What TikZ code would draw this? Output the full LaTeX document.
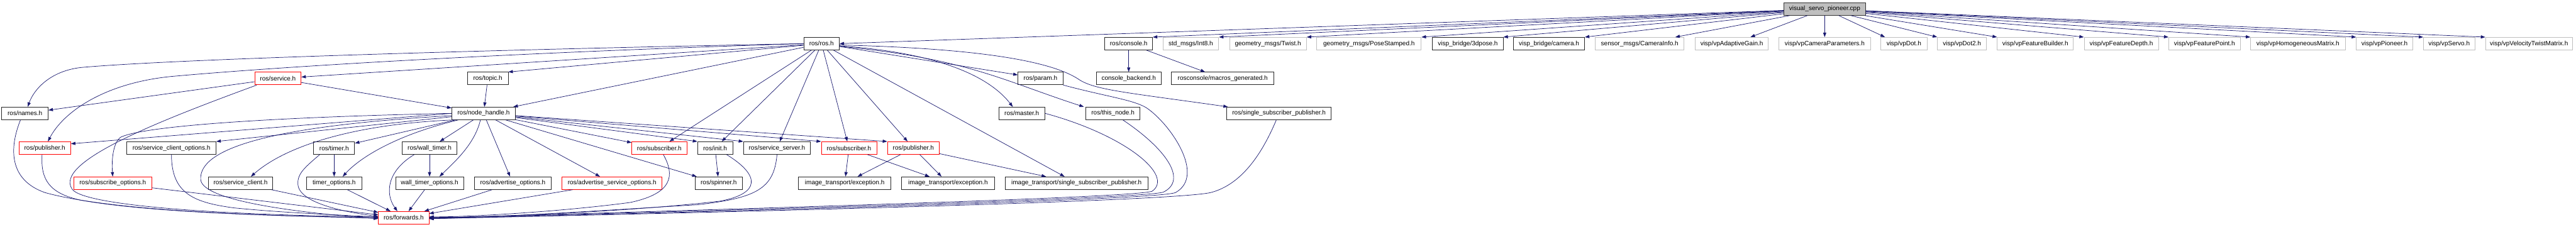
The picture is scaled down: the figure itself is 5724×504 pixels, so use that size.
\documentclass[tikz,border=0pt]{standalone}
\usepackage{fontspec}
\setmainfont{Liberation Sans}
\usetikzlibrary{arrows.meta,calc}
\definecolor{edgec}{HTML}{191970}
\definecolor{grayb}{HTML}{BFBFBF}
\definecolor{redb}{HTML}{FF0000}
\tikzset{
  base/.style={rectangle, minimum height=28, inner sep=0pt, font=\fontsize{14}{16}\selectfont, line width=1.1pt, fill=white},
  nb/.style={base, draw=black!85},
  nr/.style={base, draw=redb},
  ng/.style={base, draw=grayb},
  nmain/.style={base, draw=black!80, fill=grayb},
  conn/.style={draw=edgec, line width=1pt, line join=round, -{Triangle[length=10pt,width=7pt]}},
}
\begin{document}
\begin{tikzpicture}[x=1pt,y=-1pt]
\useasboundingbox[fill=white] (0,0) rectangle (5724,504);
% row 0
\node[nmain, minimum width=181] (V) at (4054.5,20) {visual\_servo\_pioneer.cpp};
% row 1
\node[nb, minimum width=79] (ros) at (1825.5,97) {ros/ros.h};
\node[nb, minimum width=106] (console) at (2508,97) {ros/console.h};
\node[ng, minimum width=124] (int8) at (2646,97) {std\_msgs/Int8.h};
\node[ng, minimum width=171] (twist) at (2817.5,97) {geometry\_msgs/Twist.h};
\node[ng, minimum width=232] (pose) at (3042,97) {geometry\_msgs/PoseStamped.h};
\node[nb, minimum width=157] (pose3d) at (3261.5,97) {visp\_bridge/3dpose.h};
\node[nb, minimum width=158] (camera) at (3442,97) {visp\_bridge/camera.h};
\node[ng, minimum width=197] (caminfo) at (3643.5,97) {sensor\_msgs/CameraInfo.h};
\node[ng, minimum width=162] (adapt) at (3848,97) {visp/vpAdaptiveGain.h};
\node[ng, minimum width=203] (campar) at (4054.5,97) {visp/vpCameraParameters.h};
\node[ng, minimum width=103] (dot) at (4230.5,97) {visp/vpDot.h};
\node[ng, minimum width=109] (dot2) at (4359.5,97) {visp/vpDot2.h};
\node[ng, minimum width=169] (fbuild) at (4522.5,97) {visp/vpFeatureBuilder.h};
\node[ng, minimum width=165] (fdepth) at (4713.5,97) {visp/vpFeatureDepth.h};
\node[ng, minimum width=159] (fpoint) at (4898.5,97) {visp/vpFeaturePoint.h};
\node[ng, minimum width=210] (homog) at (5106,97) {visp/vpHomogeneousMatrix.h};
\node[ng, minimum width=125] (pioneer) at (5298.5,97) {visp/vpPioneer.h};
\node[ng, minimum width=114] (servo) at (5442,97) {visp/vpServo.h};
\node[ng, minimum width=193] (vtwist) at (5619.5,97) {visp/vpVelocityTwistMatrix.h};
% row 2
\node[nr, minimum width=103] (service) at (617.5,174.5) {ros/service.h};
\node[nb, minimum width=90] (topic) at (1084,174.5) {ros/topic.h};
\node[nb, minimum width=100] (param) at (2312,174.5) {ros/param.h};
\node[nb, minimum width=144] (cback) at (2508,174.5) {console\_backend.h};
\node[nb, minimum width=228] (macros) at (2717,174.5) {rosconsole/macros\_generated.h};
% row 3
\node[nb, minimum width=103] (names) at (55.5,252) {ros/names.h};
\node[nb, minimum width=141] (nh) at (1074.5,252) {ros/node\_handle.h};
\node[nb, minimum width=103] (master) at (2270.5,252) {ros/master.h};
\node[nb, minimum width=120] (thisnode) at (2473,252) {ros/this\_node.h};
\node[nb, minimum width=232] (rssp) at (2842,252) {ros/single\_subscriber\_publisher.h};
% row 4
\node[nr, minimum width=115] (pubA) at (99.5,329) {ros/publisher.h};
\node[nb, minimum width=198] (sco) at (381,329) {ros/service\_client\_options.h};
\node[nb, minimum width=91] (timer) at (742.5,329) {ros/timer.h};
\node[nb, minimum width=121] (wt) at (954.5,329) {ros/wall\_timer.h};
\node[nr, minimum width=122] (subA) at (1465,329) {ros/subscriber.h};
\node[nb, minimum width=78] (init) at (1589,329) {ros/init.h};
\node[nb, minimum width=149] (ss) at (1726.5,329) {ros/service\_server.h};
\node[nr, minimum width=123] (subB) at (1886.5,329) {ros/subscriber.h};
\node[nr, minimum width=115] (pubB) at (2029.5,329) {ros/publisher.h};
% row 5
\node[nr, minimum width=173] (subopt) at (250.5,407) {ros/subscribe\_options.h};
\node[nb, minimum width=143] (sc) at (534.5,407) {ros/service\_client.h};
\node[nb, minimum width=123] (timeropt) at (742.5,407) {timer\_options.h};
\node[nb, minimum width=151] (wto) at (954.5,407) {wall\_timer\_options.h};
\node[nb, minimum width=171] (ao) at (1139.5,407) {ros/advertise\_options.h};
\node[nr, minimum width=222] (aso) at (1360,407) {ros/advertise\_service\_options.h};
\node[nb, minimum width=104] (spinner) at (1597,407) {ros/spinner.h};
\node[nb, minimum width=206] (excA) at (1877,407) {image\_transport/exception.h};
\node[nb, minimum width=207] (excB) at (2106.5,407) {image\_transport/exception.h};
\node[nb, minimum width=318] (issp) at (2392,407) {image\_transport/single\_subscriber\_publisher.h};
% row 6
\node[nr, minimum width=112] (fw) at (897,484) {ros/forwards.h};

% ---- edges from visual_servo_pioneer.cpp
\draw[conn] (V) -- (ros.east);
\foreach \t in {console,int8,twist,pose,pose3d,camera} \draw[conn] (V) -- (\t.north east);
\draw[conn] (V) -- ($(caminfo.north east)+(-20,0)$);
\draw[conn] (V) -- ($(adapt.north east)+(-40,0)$);
\draw[conn] (V) -- (campar);
\draw[conn] (V) -- ($(dot.north west)+(10,0)$);
\foreach \t in {dot2,fbuild,fdepth,fpoint,homog,pioneer,servo,vtwist} \draw[conn] (V) -- (\t.north west);

% ---- console
\draw[conn] (console) -- (cback);
\draw[conn] (console) -- (macros);

% ---- ros/ros.h
\draw[conn] (ros.west) .. controls (1200,108) and (400,130) .. (180,150) .. controls (110,158) and (75,200) .. ($(names.north)+(6,0)$);
\draw[conn] (ros.west) .. controls (1100,118) and (600,150) .. (380,170) .. controls (230,185) and (140,250) .. ($(pubA.north)+(7,0)$);
\draw[conn] (ros) -- (service);
\draw[conn] (ros) -- (topic.north east);
\draw[conn] (ros) -- ($(nh.north east)+(-5,0)$);
\foreach \t in {subA,init,ss,subB,pubB,issp} \draw[conn] (ros) -- (\t);
\draw[conn] (ros) -- (param);
\draw[conn] ($(ros.east)+(0,5)$) .. controls (2060,115) and (2190,160) .. ($(master.north)+(-20,0)$);
\draw[conn] ($(ros.east)+(0,6)$) .. controls (2150,130) and (2230,180) .. ($(thisnode.north west)+(-4,0)$);
\draw[conn] ($(ros.east)+(0,3)$) .. controls (2200,108) and (2340,140) .. (2395,175) .. controls (2430,200) and (2500,205) .. ($(rssp.north west)+(3,0)$);

% ---- ros/service.h
\draw[conn] (service) -- (names);
\draw[conn] (service) -- (nh);
\draw[conn] ($(service.south west)+(5,0)$) .. controls (350,270) and (120,360) .. (160,420) .. controls (185,458) and (500,478) .. ($(fw.west)+(0,-2)$);

% ---- ros/topic.h
\draw[conn] (topic) -- (nh);

% ---- ros/names.h, publisher, options -> forwards
\draw[conn] ($(names.south)+(-10,0)$) .. controls (20,330) and (20,400) .. (100,428) .. controls (250,470) and (600,480) .. (fw.west);
\draw[conn] ($(pubA.south)+(-6,0)$) .. controls (90,400) and (110,430) .. (180,445) .. controls (350,475) and (650,480) .. ($(fw.west)+(0,1)$);
\draw[conn] (subopt) -- (fw);
\draw[conn] (sco.south) .. controls (381,430) and (430,450) .. (520,462) .. controls (650,475) and (780,478) .. ($(fw.west)+(0,-1)$);
\draw[conn] (sc) -- (fw);

% ---- ros/node_handle.h
\draw[conn] ($(nh.west)+(0,5)$) .. controls (600,280) and (440,330) .. (446,400) .. controls (452,445) and (650,472) .. ($(fw.west)+(0,2)$);
\draw[conn] (nh.west) .. controls (700,258) and (330,275) .. (268,305) .. controls (250,318) and (248,360) .. (subopt.north);
\draw[conn] (nh.west) -- ($(pubA.north east)+(0,5)$);
\draw[conn] (nh) -- (sco.north east);
\draw[conn] ($(nh.south west)+(5,0)$) .. controls (800,275) and (640,320) .. ($(sc.north)+(23,0)$);
\draw[conn] (nh) -- (timer);
\draw[conn] ($(nh.south west)+(15,0)$) .. controls (880,300) and (800,350) .. ($(timeropt.north)+(19,0)$);
\draw[conn] (nh) -- (wt);
\draw[conn] ($(nh.south)+(-7,0)$) .. controls (1055,320) and (1010,360) .. ($(wto.north)+(22,0)$);
\draw[conn] (nh) -- (ao);
\draw[conn] (nh) -- (aso);
\draw[conn] (nh) -- (spinner);
\draw[conn] (nh) -- (subA);
\draw[conn] (nh) -- (init.north west);
\draw[conn] (nh) -- (ss.north west);
\draw[conn] (nh) -- (subB.north west);
\draw[conn] (nh) -- (pubB.north west);

% ---- timers
\draw[conn] (timer) -- (timeropt);
\draw[conn] ($(timer.south west)+(14,0)$) .. controls (680,370) and (660,385) .. (662,410) .. controls (664,440) and (720,465) .. ($(fw.west)+(0,-3)$);
\draw[conn] (timeropt) -- (fw);
\draw[conn] (wt) -- (wto);
\draw[conn] ($(wt.south west)+(27,0)$) .. controls (860,380) and (855,430) .. ($(fw.north)+(-14,0)$);
\draw[conn] (wto) -- (fw);
\draw[conn] (ao) -- (fw);
\draw[conn] (aso) -- (fw);

% ---- subscriber / init / service_server
\draw[conn] ($(subA.south)+(9,0)$) .. controls (1500,390) and (1495,430) .. (1400,450) .. controls (1250,470) and (1050,482) .. ($(fw.east)+(0,-2)$);
\draw[conn] (init) -- (spinner);
\draw[conn] ($(init.south east)+(-14,0)$) .. controls (1690,390) and (1690,430) .. (1600,447) .. controls (1400,470) and (1100,483) .. ($(fw.east)+(0,-1)$);
\draw[conn] (ss.south) .. controls (1720,420) and (1680,440) .. (1550,455) .. controls (1300,470) and (1100,484) .. (fw.east);

% ---- image_transport
\draw[conn] (subB) -- (excA);
\draw[conn] (subB) -- (excB);
\draw[conn] (pubB) -- (excA);
\draw[conn] (pubB) -- (excB);
\draw[conn] (pubB) -- (issp);

% ---- master / this_node / param / single_subscriber_publisher -> forwards
\draw[conn] (master.east) .. controls (2500,300) and (2610,390) .. (2560,425) .. controls (2520,440) and (1600,465) .. ($(fw.east)+(0,1)$);
\draw[conn] ($(thisnode.south)+(22,0)$) .. controls (2590,330) and (2640,400) .. (2585,427) .. controls (2540,442) and (1600,468) .. ($(fw.east)+(0,1)$);
\draw[conn] (param.south east) .. controls (2460,215) and (2520,222) .. (2548,240) .. controls (2600,275) and (2680,390) .. (2612,428) .. controls (2570,445) and (1600,470) .. ($(fw.east)+(0,2)$);
\draw[conn] ($(rssp.south)+(-6,0)$) .. controls (2805,340) and (2760,410) .. (2690,428) .. controls (2600,448) and (1600,472) .. ($(fw.east)+(0,2)$);
\end{tikzpicture}
\end{document}
